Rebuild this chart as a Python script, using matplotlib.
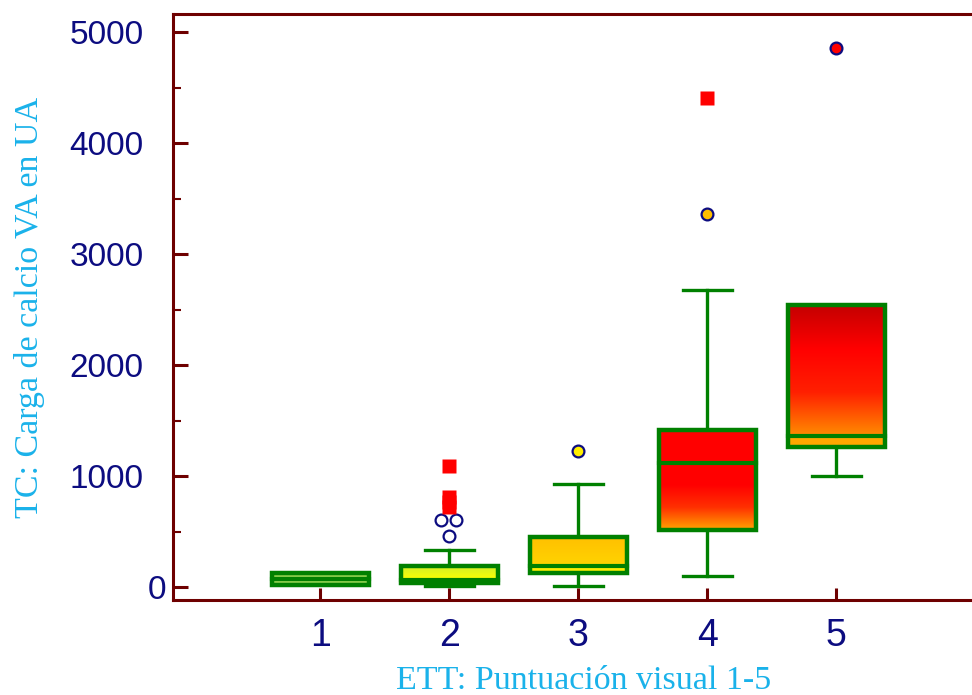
import numpy as np
import matplotlib.pyplot as plt
from matplotlib.colors import LinearSegmentedColormap
from matplotlib.patches import Rectangle
from matplotlib.ticker import MultipleLocator, FixedLocator
from matplotlib.transforms import ScaledTranslation

groups = [1, 2, 3, 4, 5]
q1 = [18, 36, 126, 513, 1261]
median = [72, 65, 189, 1117, 1360]
q3 = [126, 189, 450, 1414, 2540]
whisker_lo = [18, 5, 9, 99, 1000]
whisker_hi = [126, 333, 928, 2676, 2540]

# outside values (circles) and far out values (squares)
out_group = [2, 2, 2, 3, 4, 5]
out_value = [604, 604, 459, 1225, 3360, 4856]
far_group = [2, 2, 2, 2, 4]
far_value = [1090, 810, 765, 720, 4405]

x_ticks = [1, 2, 3, 4, 5]
y_ticks = [0, 1000, 2000, 3000, 4000, 5000]

# fill colours of each box half, listed from bottom to top
lower_colors = [["#8fd14f", "#8fd14f"], ["#a8dc5a", "#b4e050"], ["#ffee00", "#ffee00"],
                ["#ffa500", "#ff3000", "#ff0000", "#ff0000"], ["#ffa800", "#ffa800"]]
upper_colors = [["#8fd14f", "#8fd14f"], ["#ffff00", "#d2f02a"], ["#ffd400", "#ffc000"],
                ["#ff0000", "#ff0000"], ["#ff8c00", "#ff2000", "#ff0000", "#c40000"]]
out_face = ["white", "white", "white", "#ffee00", "#ffc000", "#ff0000"]
out_shift = [-0.06, 0.05, 0, 0, 0, 0]

green = "#008000"
maroon = "#6e0000"
navy = "#0c0c80"
sky = "#1ab2ea"

box_w = 0.75
cap_w = 0.38

fig = plt.figure(figsize=(9.72, 6.95), dpi=100)
ax = fig.add_axes([0.178, 0.1367, 0.822, 0.843])


def gradient(x0, x1, y0, y1, colors):
    cmap = LinearSegmentedColormap.from_list("seg", colors)
    grad = np.linspace(0, 1, 256).reshape(-1, 1)
    ax.imshow(grad, extent=[x0, x1, y0, y1], origin="lower", aspect="auto",
              cmap=cmap, zorder=2, interpolation="bilinear")


for i, g in enumerate(groups):
    x0 = g - box_w / 2
    x1 = g + box_w / 2
    # whiskers and caps
    if whisker_hi[i] > q3[i]:
        ax.plot([g, g], [q3[i], whisker_hi[i]], color=green, lw=2.4, zorder=1)
        ax.plot([g - cap_w / 2, g + cap_w / 2], [whisker_hi[i]] * 2, color=green, lw=2.4, zorder=1)
    if whisker_lo[i] < q1[i]:
        ax.plot([g, g], [whisker_lo[i], q1[i]], color=green, lw=2.4, zorder=1)
        ax.plot([g - cap_w / 2, g + cap_w / 2], [whisker_lo[i]] * 2, color=green, lw=2.4, zorder=1)
    gradient(x0, x1, q1[i], median[i], lower_colors[i])
    gradient(x0, x1, median[i], q3[i], upper_colors[i])
    ax.add_patch(Rectangle((x0, q1[i]), box_w, q3[i] - q1[i], fill=False,
                           edgecolor=green, lw=3.2, zorder=3))
    ax.plot([x0, x1], [median[i]] * 2, color=green, lw=3.0, zorder=3)

for g, v, fc, dx in zip(out_group, out_value, out_face, out_shift):
    ax.plot(g + dx, v, "o", ms=8.5, mfc=fc, mec=navy, mew=1.6, zorder=4)

ax.plot(far_group, far_value, "s", ms=10, color="#ff0000", mec="none", zorder=4)

ax.set_xlim(-0.14, 6.05)
ax.set_ylim(-117, 5162)

ax.xaxis.set_major_locator(FixedLocator(x_ticks))
ax.yaxis.set_major_locator(FixedLocator(y_ticks))
ax.yaxis.set_minor_locator(MultipleLocator(500))

for side in ["left", "top", "bottom"]:
    ax.spines[side].set_color(maroon)
    ax.spines[side].set_linewidth(2.2)
ax.spines["right"].set_visible(False)

ax.tick_params(axis="y", which="major", direction="in", length=11, width=2.2,
               color=maroon, labelcolor=navy, labelsize=24, pad=21)
ax.tick_params(axis="y", which="minor", direction="in", length=6, width=1.5, color=maroon)
ax.tick_params(axis="x", which="major", direction="in", length=9, width=2.2,
               color=maroon, labelcolor=navy, labelsize=27, pad=13, top=False)
for lab in ax.get_xticklabels() + ax.get_yticklabels():
    lab.set_fontfamily("Liberation Sans")

zero_label = ax.yaxis.get_major_ticks()[0].label1
zero_label.set_transform(zero_label.get_transform() + ScaledTranslation(0.22, 0, fig.dpi_scale_trans))

ax.set_xlabel("ETT: Puntuación visual 1-5", family="Liberation Serif", fontsize=24.5, color=sky)
ax.set_ylabel("TC: Carga de calcio VA en UA", family="Liberation Serif", fontsize=24.5, color=sky)
ax.xaxis.set_label_coords(0.514, -0.112)
ax.yaxis.set_label_coords(-0.16, 0.5)

fig.savefig("out.png", dpi=100)
